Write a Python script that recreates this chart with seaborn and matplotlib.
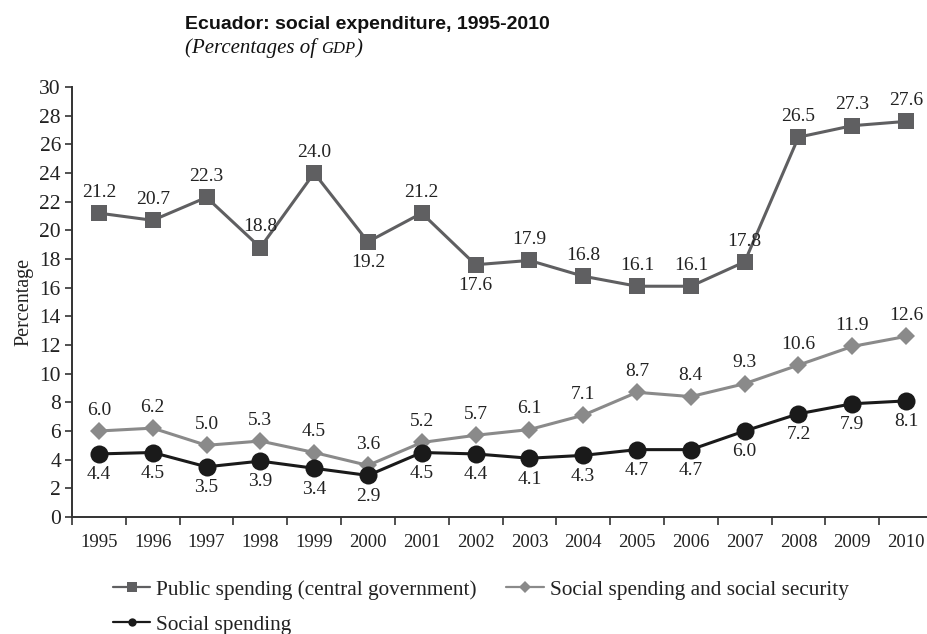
import matplotlib
matplotlib.use("Agg")
import matplotlib.pyplot as plt
import seaborn as sns
import pandas as pd
import numpy as np
from matplotlib.ticker import FixedLocator, NullFormatter

years = list(range(1995, 2011))
public_spending = [21.2, 20.7, 22.3, 18.8, 24.0, 19.2, 21.2, 17.6, 17.9, 16.8, 16.1, 16.1, 17.8, 26.5, 27.3, 27.6]
social_ss = [6.0, 6.2, 5.0, 5.3, 4.5, 3.6, 5.2, 5.7, 6.1, 7.1, 8.7, 8.4, 9.3, 10.6, 11.9, 12.6]
social = [4.4, 4.5, 3.5, 3.9, 3.4, 2.9, 4.5, 4.4, 4.1, 4.3, 4.7, 4.7, 6.0, 7.2, 7.9, 8.1]
public_below = [2000, 2002]

sns.set_style("ticks")
plt.rcParams['font.family'] = ['Liberation Serif', 'DejaVu Serif']
plt.rcParams['font.size'] = 13

fig = plt.figure(figsize=(9.28, 6.34), dpi=100)
ax = fig.add_axes([72/928, 1-517/634, (933-72)/928, (517-87)/634])

df = pd.DataFrame({"year": years, "public": public_spending, "ss": social_ss, "social": social})

c_pub = "#5f5f61"
c_ss = "#8a8a8a"
c_soc = "#1a1a1a"

sns.lineplot(data=df, x="year", y="public", ax=ax, color=c_pub, lw=2.2,
             marker="s", markersize=11.5, markeredgewidth=0, label="Public spending (central government)")
sns.lineplot(data=df, x="year", y="ss", ax=ax, color=c_ss, lw=2.2,
             marker="D", markersize=9, markeredgewidth=0, label="Social spending and social security")
sns.lineplot(data=df, x="year", y="social", ax=ax, color=c_soc, lw=2.2,
             marker="o", markersize=13, markeredgewidth=0, label="Social spending")

txt_col = "#222222"
lab_fs = 14
for y, v in zip(years, public_spending):
    off = -15 if y in public_below else 15
    ax.annotate(f"{v:.1f}", (y, v), xytext=(0, off), textcoords="offset points",
                ha="center", va="center", fontsize=lab_fs, color=txt_col)
for y, v in zip(years, social_ss):
    ax.annotate(f"{v:.1f}", (y, v), xytext=(0, 15), textcoords="offset points",
                ha="center", va="center", fontsize=lab_fs, color=txt_col)
for y, v in zip(years, social):
    ax.annotate(f"{v:.1f}", (y, v), xytext=(0, -15), textcoords="offset points",
                ha="center", va="center", fontsize=lab_fs, color=txt_col)

ax.set_xlim(1994.5, 2010.5)
ax.set_ylim(0, 30)
ax.set_yticks(np.arange(0, 31, 2))
ax.xaxis.set_major_locator(FixedLocator(np.arange(1994.5, 2011, 1)))
ax.xaxis.set_major_formatter(NullFormatter())
ax.xaxis.set_minor_locator(FixedLocator(years))
ax.set_xticklabels([str(y) for y in years], minor=True)
ax.tick_params(axis="x", which="major", length=6, width=1.2, direction="out", color="#333333")
ax.tick_params(axis="x", which="minor", length=0, pad=12, labelsize=13.5, labelcolor=txt_col)
ax.tick_params(axis="y", length=5, width=1.2, direction="out", labelsize=15.5, pad=3, color="#333333", labelcolor=txt_col)
sns.despine(ax=ax, top=True, right=True)
for s in ["left", "bottom"]:
    ax.spines[s].set_linewidth(1.4)
    ax.spines[s].set_color("#333333")
ax.set_xlabel("")
ax.set_ylabel("Percentage", fontsize=14.5, color=txt_col, labelpad=4)

handles, labels = ax.get_legend_handles_labels()
order = [0, 2, 1]
leg = ax.legend([handles[i] for i in order], [labels[i] for i in order], ncol=2, frameon=False,
                loc="upper left", bbox_to_anchor=(113/928, 1-580/634), bbox_transform=fig.transFigure,
                borderaxespad=0, borderpad=0, handlelength=1.75, handletextpad=0.28, columnspacing=1.4,
                labelspacing=0.7, fontsize=15.3)
for h, ms in zip(leg.legend_handles, [7, 6, 6]):
    h.set_markersize(ms)
    h.set_linewidth(1.6)
for t in leg.get_texts():
    t.set_color(txt_col)

fig.text(185/928, 1-29/634, "Ecuador: social expenditure, 1995-2010", family=["Liberation Sans", "DejaVu Sans"],
         fontweight="bold", fontsize=14, ha="left", va="baseline", color="#111111")
t1 = fig.text(185/928, 1-53/634, "(Percentages of ", family=["Liberation Serif", "DejaVu Serif"],
              style="italic", fontsize=15, ha="left", va="baseline", color="#111111")
fig.canvas.draw()
r = fig.canvas.get_renderer()
bb = t1.get_window_extent(renderer=r)
x2 = bb.x1 / fig.bbox.width
t2 = fig.text(x2, 1-53/634, "GDP", family=["Liberation Serif", "DejaVu Serif"],
              style="italic", fontsize=12, ha="left", va="baseline", color="#111111")
bb2 = t2.get_window_extent(renderer=r)
fig.text(bb2.x1 / fig.bbox.width + 0.001, 1-53/634, ")", family=["Liberation Serif", "DejaVu Serif"],
         style="italic", fontsize=15, ha="left", va="baseline", color="#111111")

fig.savefig("out.png", dpi=100)
